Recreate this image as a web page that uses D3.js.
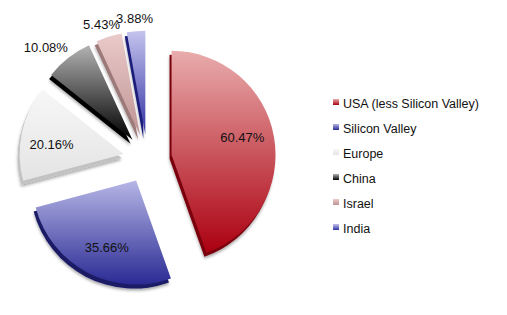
<!DOCTYPE html>
<html>
<head>
<meta charset="utf-8">
<script src="https://cdn.jsdelivr.net/npm/d3@7"></script>
<style>
  body { margin: 0; background: #fff; }
  text { font-family: "Liberation Sans", Arial, Helvetica, sans-serif; fill: #111; }
</style>
</head>
<body>
<svg id="chart" width="507" height="315"></svg>
<script>
// data
var regions = ["USA (less Silicon Valley)", "Silicon Valley", "Europe", "China", "Israel", "India"];
var shares = [60.47, 35.66, 20.16, 10.08, 5.43, 3.88];
var labels = ["60.47%", "35.66%", "20.16%", "10.08%", "5.43%", "3.88%"];

// styles
var topColors = ["#e9acac", "#b6b6e6", "#f7f7f7", "#b2b2b2", "#eacaca", "#c4c4ee"];
var bottomColors = ["#ab0010", "#2a2a94", "#e4e4e4", "#000000", "#c09494", "#3232a4"];
var depthColors = ["#7a000c", "#1a1a66", "#c2c2c2", "#000000", "#9c7a7a", "#1e1e7a"];

var cx = 147.5, cy = 159, r = 104, explode = 24.4;
var deg = Math.PI / 180;

var svg = d3.select("#chart");
var defs = svg.append("defs");

var shadow = defs.append("filter").attr("id", "shadow")
  .attr("x", "-20%").attr("y", "-20%").attr("width", "140%").attr("height", "140%");
shadow.append("feDropShadow").attr("dx", 0).attr("dy", 2).attr("stdDeviation", 1.6)
  .attr("flood-color", "#000").attr("flood-opacity", 0.35);

regions.forEach(function(d, i) {
  var g = defs.append("linearGradient").attr("id", "grad" + i)
    .attr("x1", 0).attr("y1", 0).attr("x2", 0).attr("y2", 1);
  g.append("stop").attr("offset", "0%").attr("stop-color", topColors[i]);
  g.append("stop").attr("offset", "100%").attr("stop-color", bottomColors[i]);
});

var pie = d3.pie().sort(null).value(function(d) { return d; })
  .startAngle(0).endAngle(2 * Math.PI);
var arcs = pie(shares);
var arc = d3.arc().innerRadius(0).outerRadius(r);

function mid(d) { return (d.startAngle + d.endAngle) / 2; }

var slices = svg.selectAll("g.slice")
    .data(arcs)
  .enter().append("g")
    .attr("class", "slice")
    .attr("transform", function(d) {
      return "translate(" + (cx + explode * Math.sin(mid(d))) + "," + (cy - explode * Math.cos(mid(d))) + ")";
    });

// extruded edge
slices.append("path")
  .attr("d", arc)
  .attr("transform", "translate(-2,4)")
  .attr("fill", function(d, i) { return depthColors[i]; })
  .attr("filter", "url(#shadow)");

slices.append("path")
  .attr("d", arc)
  .attr("fill", function(d, i) { return "url(#grad" + i + ")"; });

// percentage labels: inside for big slices, outside for small ones
function labelPos(d) {
  var inside = (d.endAngle - d.startAngle) > 0.6;
  if (inside) {
    var a = mid(d) - 4 * deg, lr = r * 0.7;
    return [lr * Math.sin(a), -lr * Math.cos(a)];
  }
  var m = mid(d), s = Math.sin(m), lo = r + 13;
  // push wider labels sideways so they clear the rim
  return [lo * s + s * Math.abs(s) * 38, -lo * Math.cos(m)];
}

slices.append("text")
  .attr("text-anchor", "middle")
  .attr("dy", "0.35em")
  .style("font-size", "13px")
  .attr("x", function(d) { return labelPos(d)[0]; })
  .attr("y", function(d) { return labelPos(d)[1]; })
  .text(function(d, i) { return labels[i]; });

// legend
var legend = svg.selectAll("g.legend")
    .data(regions)
  .enter().append("g")
    .attr("class", "legend")
    .attr("transform", function(d, i) { return "translate(333," + (104 + i * 25) + ")"; });

legend.append("rect")
  .attr("x", 0).attr("y", -5).attr("width", 6).attr("height", 6)
  .attr("fill", function(d, i) { return "url(#grad" + i + ")"; });

legend.append("text")
  .attr("x", 10).attr("dy", "0.35em")
  .style("font-size", "12.5px")
  .text(function(d) { return d; });
</script>
</body>
</html>
